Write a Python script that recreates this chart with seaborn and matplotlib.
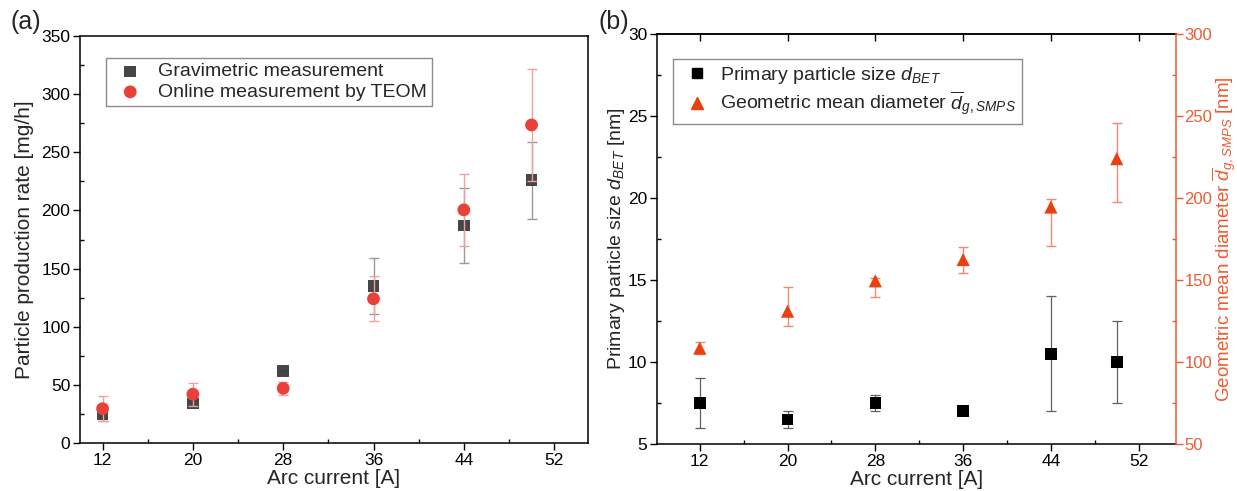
import matplotlib
matplotlib.use("Agg")
import matplotlib.pyplot as plt
from matplotlib.ticker import MultipleLocator
import pandas as pd
import seaborn as sns

# Arc current settings [A]
current = [12, 20, 28, 36, 44, 50]

# (a) particle production rate [mg/h]
grav_rate = [25, 34, 62, 135, 187, 226]
grav_err = [6, 3, 0, 24, 32, 33]
teom_rate = [29.5, 42, 47, 124, 200.5, 273.5]
teom_err = [10.5, 10, 5.5, 19.5, 31, 48.5]

# (b) primary particle size d_BET [nm]
d_bet = [7.5, 6.5, 7.5, 7.0, 10.5, 10.0]
d_bet_err = [1.5, 0.5, 0.5, 0.0, 3.5, 2.5]

# (b) geometric mean diameter from SMPS [nm], asymmetric errors
d_smps = [108.5, 131, 149.5, 162.5, 194.5, 224]
d_smps_lo = [3.5, 9, 10, 8, 24, 26.5]
d_smps_hi = [4, 15, 2, 7.5, 5, 21.5]

sns.set_theme(style="ticks")
plt.rcParams.update({
    "font.family": ["Liberation Sans", "DejaVu Sans"],
    "mathtext.fontset": "custom",
    "mathtext.rm": "Liberation Sans",
    "mathtext.it": "Liberation Sans:italic",
    "mathtext.bf": "Liberation Sans:bold",
    "axes.linewidth": 1.1,
    "axes.edgecolor": "black",
    "xtick.color": "black",
    "ytick.color": "black",
})

ORANGE = "#EE5A32"
TRI = "#E8400E"
TRI_ERR = "#F5896E"
RED = "#E8413A"
RED_ERR = "#F3A09C"
GREY = "#3C3C3C"
GREY_ERR = "#9A9A9A"

TICK_FS = 12.5
LABEL_FS = 15
LABEL_FS_B = 14
LEG_FS = 14

df_a = pd.DataFrame({"current": current, "grav": grav_rate, "teom": teom_rate})
df_b = pd.DataFrame({"current": current, "dbet": d_bet, "dsmps": d_smps})

fig = plt.figure(figsize=(12.37, 4.91), dpi=100)
W, H = 1237, 491
ax1 = fig.add_axes([80 / W, 1 - 443 / H, 508 / W, 407 / H])
ax2 = fig.add_axes([657 / W, 1 - 444 / H, 519 / W, 410 / H])


def style_ticks(ax, axis="both"):
    ax.tick_params(axis=axis, which="major", direction="out", length=5,
                   width=1.0, labelsize=TICK_FS, pad=2)
    ax.tick_params(axis=axis, which="minor", direction="in", length=3,
                   width=1.0)


def boxed_legend(ax, handles, labels, anchor, pad, hlen, tpad, spacing):
    leg = ax.legend(handles, labels, loc="upper left", bbox_to_anchor=anchor,
                    borderaxespad=0, fontsize=LEG_FS, frameon=True,
                    fancybox=False, edgecolor="#8C8C8C", framealpha=1,
                    handlelength=hlen, handletextpad=tpad, borderpad=pad,
                    labelspacing=spacing)
    leg.get_frame().set_linewidth(1.0)
    return leg


# ---- (a) production rate ----
ax1.errorbar(current, grav_rate, yerr=grav_err, fmt="none", ecolor=GREY_ERR,
             elinewidth=1.0, capsize=3.5, capthick=1.0, zorder=2)
sns.scatterplot(data=df_a, x="current", y="grav", ax=ax1, marker="s", s=70,
                color=GREY, edgecolor="none", alpha=0.95,
                label="Gravimetric measurement", zorder=3)
ax1.errorbar(current, teom_rate, yerr=teom_err, fmt="none", ecolor=RED_ERR,
             elinewidth=1.0, capsize=3.5, capthick=1.0, zorder=4)
sns.scatterplot(data=df_a, x="current", y="teom", ax=ax1, marker="o", s=85,
                color=RED, edgecolor="none",
                label="Online measurement by TEOM", zorder=5)

ax1.set_xlim(10, 55)
ax1.set_ylim(0, 350)
ax1.set_xticks([12, 20, 28, 36, 44, 52])
ax1.xaxis.set_minor_locator(MultipleLocator(4))
ax1.yaxis.set_major_locator(MultipleLocator(50))
ax1.yaxis.set_minor_locator(MultipleLocator(25))
style_ticks(ax1)
ax1.set_xlabel("Arc current [A]", fontsize=LABEL_FS, labelpad=1)
ax1.set_ylabel("Particle production rate [mg/h]", fontsize=LABEL_FS)
ax1.yaxis.set_label_coords(-0.09, 0.5)
h1, l1 = ax1.get_legend_handles_labels()
boxed_legend(ax1, h1, l1, (0.051, 0.946), 0.25, 2.0, 0.45, 0.15)

# ---- (b) particle sizes ----
ax2.errorbar(current, d_bet, yerr=d_bet_err, fmt="none", ecolor="#606060",
             elinewidth=0.9, capsize=3.5, capthick=0.9, zorder=2)
sns.scatterplot(data=df_b, x="current", y="dbet", ax=ax2, marker="s", s=70,
                color="black", edgecolor="none", legend=False, zorder=3)
ax2.set_xlim(8.1, 55.4)
ax2.set_ylim(5, 30)
ax2.set_xticks([12, 20, 28, 36, 44, 52])
ax2.xaxis.set_minor_locator(MultipleLocator(4))
ax2.yaxis.set_major_locator(MultipleLocator(5))
ax2.yaxis.set_minor_locator(MultipleLocator(2.5))
style_ticks(ax2)
ax2.spines["right"].set_visible(False)
ax2.set_xlabel("Arc current [A]", fontsize=LABEL_FS, labelpad=1)
ax2.set_ylabel("Primary particle size $d_{BET}$ [nm]", fontsize=LABEL_FS_B)
ax2.yaxis.set_label_coords(-0.058, 0.5)

top = ax2.secondary_xaxis("top")
top.set_xticks([12, 20, 28, 36, 44, 52])
top.tick_params(direction="in", length=5, width=1.0, labeltop=False)

ax3 = ax2.twinx()
ax3.errorbar(current, d_smps, yerr=[d_smps_lo, d_smps_hi], fmt="none",
             ecolor=TRI_ERR, elinewidth=1.0, capsize=3.5, capthick=1.0,
             zorder=2)
sns.scatterplot(data=df_b, x="current", y="dsmps", ax=ax3, marker="^", s=90,
                color=TRI, edgecolor="none", legend=False, zorder=3)
ax3.set_ylim(50, 300)
ax3.yaxis.set_major_locator(MultipleLocator(50))
ax3.yaxis.set_minor_locator(MultipleLocator(25))
style_ticks(ax3, axis="y")
ax3.tick_params(axis="y", which="major", pad=1, labelsize=12)
ax3.tick_params(axis="y", which="both", colors=ORANGE, labelcolor=ORANGE)
for side in ("left", "top", "bottom"):
    ax3.spines[side].set_visible(False)
ax3.spines["right"].set_color(ORANGE)
ax3.spines["right"].set_linewidth(1.1)
ax3.set_ylabel(r"Geometric mean diameter $\overline{d}_{g,SMPS}$ [nm]",
               fontsize=13.5, color=ORANGE)
ax3.yaxis.set_label_coords(1.066, 0.5)

h_bet = plt.Line2D([], [], ls="none", marker="s", ms=7, color="black")
h_smps = plt.Line2D([], [], ls="none", marker="^", ms=8, color=TRI)
boxed_legend(ax3, [h_bet, h_smps],
             ["Primary particle size $d_{BET}$",
              r"Geometric mean diameter $\overline{d}_{g,SMPS}$"],
             (0.030, 0.938), 0.3, 1.88, 0.25, 0.2)

fig.text(10 / W, 1 - 10 / H, "(a)", fontsize=18, va="top", ha="left")
fig.text(598 / W, 1 - 10 / H, "(b)", fontsize=18, va="top", ha="left")

fig.savefig("out.png", dpi=100)
